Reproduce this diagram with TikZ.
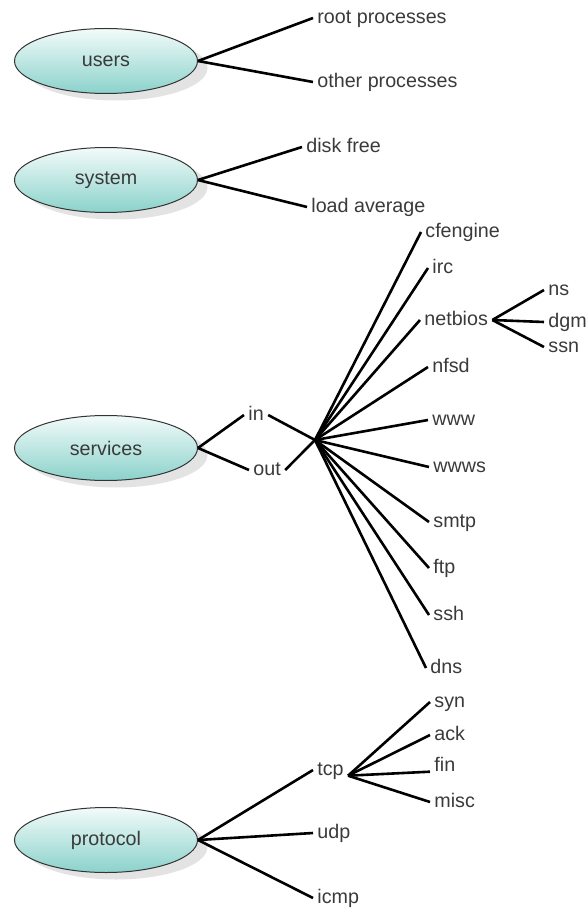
\documentclass[tikz,border=0pt]{standalone}
\usepackage{fontspec}
\setmainfont{Liberation Sans}
\usetikzlibrary{shapes.geometric,shadows}
\definecolor{txtgray}{HTML}{3A3A3A}
\definecolor{captop}{HTML}{F2FBFA}
\definecolor{capbot}{HTML}{8BD2CB}

\begin{document}
\begin{tikzpicture}[x=0.5pt,y=-0.5pt,font=\fontsize{9.85pt}{12pt}\selectfont]
\tikzset{
  topic/.style={ellipse, draw=black!80, line width=0.5pt, top color=captop, bottom color=capbot,
    minimum width=91.5pt, minimum height=32.5pt, inner sep=0pt, text=txtgray,
    drop shadow={shadow xshift=5pt, shadow yshift=-3.5pt, fill=black!22}},
  leaf/.style={anchor=west, inner xsep=2pt, inner ysep=0pt, text height=1ex, text depth=0pt, text=txtgray},
  stem/.style={line width=1.3pt}
}
\useasboundingbox (0,0) rectangle (586,909);

% topics
\node [topic] (users) at (106,61) {users};
\node [topic] (system) at (106,180) {system};
\node [topic] (services) at (106,448) {services};
\node [topic] (protocol) at (106,840) {protocol};

% users
\node [leaf] (rootp) at (313,18) {root processes};
\node [leaf] (otherp) at (313,82) {other processes};
\draw [stem] (users.east) -- (rootp.west);
\draw [stem] (users.east) -- (otherp.west);

% system
\node [leaf] (diskfree) at (302,147) {disk free};
\node [leaf] (loadavg) at (307,207) {load average};
\draw [stem] (system.east) -- (diskfree.west);
\draw [stem] (system.east) -- (loadavg.west);

% services
\node [leaf] (in) at (244,415) {in};
\node [leaf] (out) at (249,470) {out};
\coordinate (hub) at (315,440);
\draw [stem] (services.east) -- (in.west);
\draw [stem] (services.east) -- (out.west);
\draw [stem] (in.east) -- (hub);
\draw [stem] (out.east) -- (hub);

\node [leaf] (cfengine) at (421,232) {cfengine};
\node [leaf] (irc) at (428,268) {irc};
\node [leaf] (netbios) at (420,320) {netbios};
\node [leaf] (nfsd) at (428,367) {nfsd};
\node [leaf] (www) at (428,420) {www};
\node [leaf] (wwws) at (429,467) {wwws};
\node [leaf] (smtp) at (429,522) {smtp};
\node [leaf] (ftp) at (429,568) {ftp};
\node [leaf] (ssh) at (429,615) {ssh};
\node [leaf] (dns) at (426,668) {dns};
\foreach \port in {cfengine,irc,netbios,nfsd,www,wwws,smtp,ftp,ssh,dns}
  \draw [stem] (hub) -- (\port.west);

\node [leaf] (ns) at (544,290) {ns};
\node [leaf] (dgm) at (544,322) {dgm};
\node [leaf] (ssn) at (544,347) {ssn};
\foreach \part in {ns,dgm,ssn}
  \draw [stem] (netbios.east) -- (\part.west);

% protocol
\node [leaf] (tcp) at (313,770) {tcp};
\node [leaf] (udp) at (313,833) {udp};
\node [leaf] (icmp) at (313,898) {icmp};
\foreach \proto in {tcp,udp,icmp}
  \draw [stem] (protocol.east) -- (\proto.west);

\node [leaf] (syn) at (430,702) {syn};
\node [leaf] (ack) at (430,735) {ack};
\node [leaf] (fin) at (430,766) {fin};
\node [leaf] (misc) at (430,802) {misc};
\draw [stem] (tcp.south east) -- (syn.west);
\draw [stem] (tcp.south east) -- (ack.west);
\draw [stem] (tcp.south east) -- (fin.south west);
\draw [stem] (tcp.south east) -- (misc.west);

\end{tikzpicture}
\end{document}
